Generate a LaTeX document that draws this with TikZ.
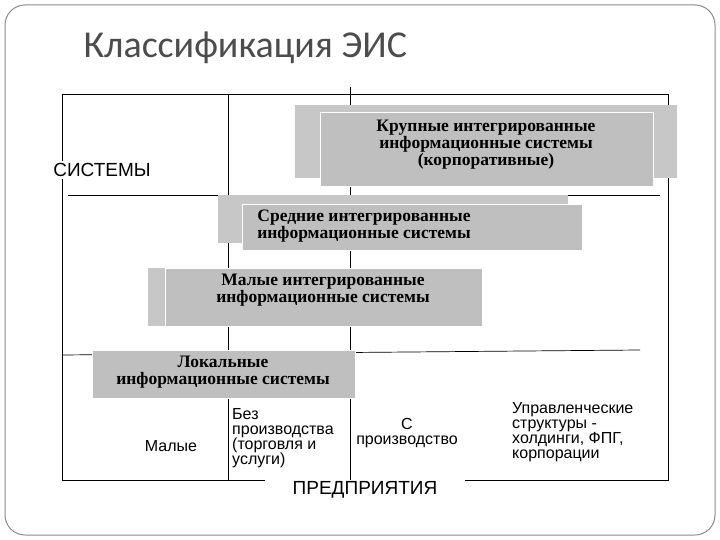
\documentclass[tikz,border=0pt]{standalone}
\usepackage{fontspec}
\setmainfont{Liberation Serif}
\setsansfont{Liberation Sans}
\newfontfamily\titlefont{Carlito}
\begin{document}
\begin{tikzpicture}[x=1pt,y=-1pt,
  shadowbox/.style={fill=black!22,draw=none},
  mainbox/.style={fill=black!25,draw=white,line width=1pt},
  boxtext/.style={font=\bfseries\fontsize{17.5}{17}\selectfont,align=center,inner sep=0pt},
  lbl/.style={font=\sffamily\fontsize{16}{15}\selectfont,align=left,inner sep=0pt},
  frame/.style={line width=1pt,black}]
\useasboundingbox (0,0) rectangle (720,540);
\draw[black!45,line width=1pt,rounded corners=20] (5,5) rectangle (715,535);
\node[font=\titlefont\fontsize{38}{38}\selectfont,text=black!70,anchor=west] (title) at (80,48) {Классификация ЭИС};
% frame
\coordinate (tl) at (62,95); \coordinate (tr) at (668,95);
\coordinate (bl) at (62,480); \coordinate (br) at (668,480);
\coordinate (bgl) at (265,480); \coordinate (bgr) at (465,480);
\draw[frame] (bgl) -- (bl) -- (tl) -- (tr) -- (br) -- (bgr);
\coordinate (v1t) at (228,95); \coordinate (v1b) at (228,480);
\coordinate (v2t) at (350,87); \coordinate (v2b) at (350,480);
\draw[black,line width=0.7pt] (v1t) -- (v1b);
\draw[black,line width=0.7pt] (v2t) -- (v2b);
\coordinate (h1a) at (68,195); \coordinate (h1b) at (660,195);
\draw[black,line width=0.7pt] (h1a) -- (h1b);
\coordinate (h2a) at (62,355); \coordinate (h2b) at (640,350);
\draw[black,line width=0.7pt] (h2a) -- (h2b);
\node[fill=white,inner sep=2pt,font=\sffamily\fontsize{19}{19}\selectfont] (sys) at (102,170) {СИСТЕМЫ};
\node[fill=white,inner sep=2pt,font=\sffamily\fontsize{19}{19}\selectfont] (ent) at (365,490) {ПРЕДПРИЯТИЯ};
% box 1
\fill[shadowbox] (295,105) rectangle (677,178);
\filldraw[mainbox] (320,113) rectangle (653,187);
\node[boxtext] (b1) at (486,145) {Крупные интегрированные\\информационные системы\\(корпоративные)};
% box 2
\fill[shadowbox] (218,195) rectangle (568,243);
\filldraw[mainbox] (242,205) rectangle (582,250);
\node[boxtext] (b2) at (364,226) {Средние интегрированные\\информационные системы};
% box 3
\fill[shadowbox] (148,268) rectangle (165,326);
\filldraw[mainbox] (165,268) rectangle (482,326);
\node[boxtext] (b3) at (323,290) {Малые интегрированные\\информационные системы};
% box 4
\filldraw[mainbox] (92,350) rectangle (355,398);
\node[boxtext] (b4) at (223,372) {Локальные\\информационные системы};
% labels
\node[lbl] (l1) at (171,446) {Малые};
\node[lbl,anchor=north west] (l2) at (232,408) {Без\\производства\\(торговля и\\услуги)};
\node[lbl,align=center] (l3) at (407,433) {С\\производство};
\node[lbl,anchor=north west] (l4) at (512,402) {Управленческие\\структуры -\\холдинги, ФПГ,\\корпорации};
\end{tikzpicture}
\end{document}
